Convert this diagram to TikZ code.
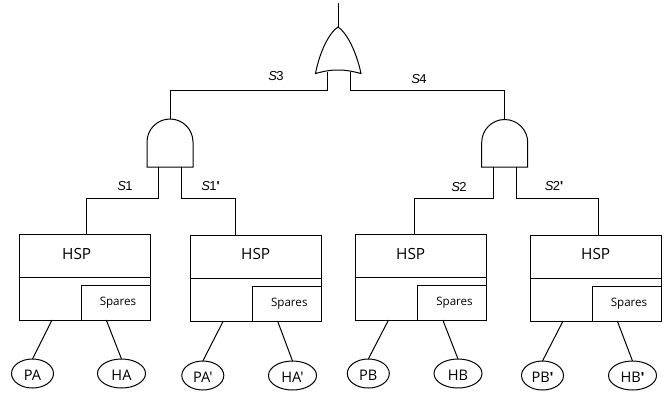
\documentclass[tikz,border=0pt]{standalone}
\usepackage{fontspec}
\newfontfamily\osans{Open Sans}
\newfontfamily\liberation{Liberation Sans}
\usetikzlibrary{shapes.geometric,calc}
\tikzset{
  every path/.style={line width=1pt,line join=miter},
  hspbox/.style={draw,rectangle,minimum width=131pt,minimum height=86pt,inner sep=0,outer sep=0,anchor=north west},
  sparesbox/.style={draw,rectangle,minimum width=69pt,minimum height=34.5pt,inner sep=0,outer sep=0,anchor=south east},
  hsptext/.style={font=\osans\fontsize{15.4}{16}\selectfont,inner sep=0},
  sparestext/.style={font=\osans\fontsize{11.6}{12}\selectfont,inner sep=0},
  basic/.style={draw,ellipse,minimum height=29pt,inner sep=0,outer sep=0,text height=13.2pt,text depth=0pt,font=\osans\fontsize{14.6}{15}\selectfont},
  pevent/.style={basic,minimum width=42pt},
  hevent/.style={basic,minimum width=48pt},
  siglabel/.style={font=\liberation\fontsize{13}{14}\selectfont,inner sep=0},
}
\newcommand{\sig}[1]{\textit{S}\kern-0.6pt #1}
\newcommand{\mk}{{\liberation\bfseries '}}
\begin{document}
\begin{tikzpicture}[x=1pt,y=-1pt]
\useasboundingbox (0,0) rectangle (668,394);
% OR gate
\coordinate (orTop) at (338,27);
\coordinate (out) at (338,3);
\coordinate (orL) at (327,72);
\coordinate (orR) at (350,72);
\draw (315.5,73.5) .. controls (320,50) and (330,32) .. (orTop)
  .. controls (346,32) and (356,50) .. (361,73.5)
  .. controls (351,71) and (346,70) .. (338,70)
  .. controls (330,70) and (325,71) .. cycle;
\draw (orTop) -- (out);
% AND gates
\coordinate (andAtop) at (170,119);
\coordinate (andAl) at (158.5,167);
\coordinate (andAr) at (181.5,167);
\draw (147,167) -- (147,142) arc[start angle=180,end angle=360,radius=23] -- (193,167) -- cycle;
\coordinate (andBtop) at (504.7,119.5);
\coordinate (andBl) at (493.2,167);
\coordinate (andBr) at (516.2,167);
\draw (481.7,167) -- (481.7,142.5) arc[start angle=180,end angle=360,radius=23] -- (527.7,167) -- cycle;
% HSP boxes
\node[hspbox] (b1) at (19,234) {};
\node[hspbox] (b2) at (190.3,235) {};
\node[hspbox] (b3) at (355.5,234) {};
\node[hspbox] (b4) at (530,235) {};
\foreach \b/\tx in {b1/76.7,b2/255.7,b3/410.7,b4/595.7}{
  \draw ($(\b.north west)+(0,43)$) -- ($(\b.north east)+(0,43)$);
  \node[sparesbox] (\b s) at (\b.south east) {};
  \node[hsptext] (\b t) at (\tx,254) {HSP};
  \node[sparestext] (\b l) at ($(\b s.center)+(2.5,-0.3)$) {Spares};
}
% events
\node[pevent] (pa) at (32.5,373.5) {PA};
\node[hevent] (ha) at (121.5,373.5) {HA};
\node[pevent] (pa2) at (202.8,375.5) {PA'};
\node[hevent] (ha2) at (292.5,375.5) {HA'};
\node[pevent] (pb) at (368.3,373.5) {PB};
\node[hevent] (hb) at (458,373.5) {HB};
\node[pevent] (pb2) at (542.5,375.5) {PB\mk};
\node[hevent] (hb2) at (632.5,375.5) {HB\mk};
\foreach \b/\p/\h in {b1/pa/ha,b2/pa2/ha2,b3/pb/hb,b4/pb2/hb2}{
  \draw ($(\b.south west)+(33,0)$) -- (\p.north);
  \draw ($(\b.south west)+(87.3,0)$) -- (\h.north);
}
% connectors
\draw (orL) -- (327,90) -| (andAtop);
\draw (orR) -- (350,90) -| (andBtop);
\draw (andAl) -- (158.5,198) -| ($(b1.north west)+(67,0)$);
\draw (andAr) -- (181.5,198) -| ($(b2.north west)+(45.2,0)$);
\draw (andBl) -- (493.2,198) -| ($(b3.north west)+(59.3,0)$);
\draw (andBr) -- (516.2,198) -| ($(b4.north west)+(68.5,0)$);
% labels
\node[siglabel] (s3) at (276,76) {\sig{3}};
\node[siglabel] (s4) at (419,79) {\sig{4}};
\node[siglabel] (s1) at (125,186) {\sig{1}};
\node[siglabel] (s1p) at (210.5,186) {\sig{1}\mk};
\node[siglabel] (s2) at (459,187) {\sig{2}};
\node[siglabel] (s2p) at (554,186) {\sig{2}\mk};
\end{tikzpicture}
\end{document}
